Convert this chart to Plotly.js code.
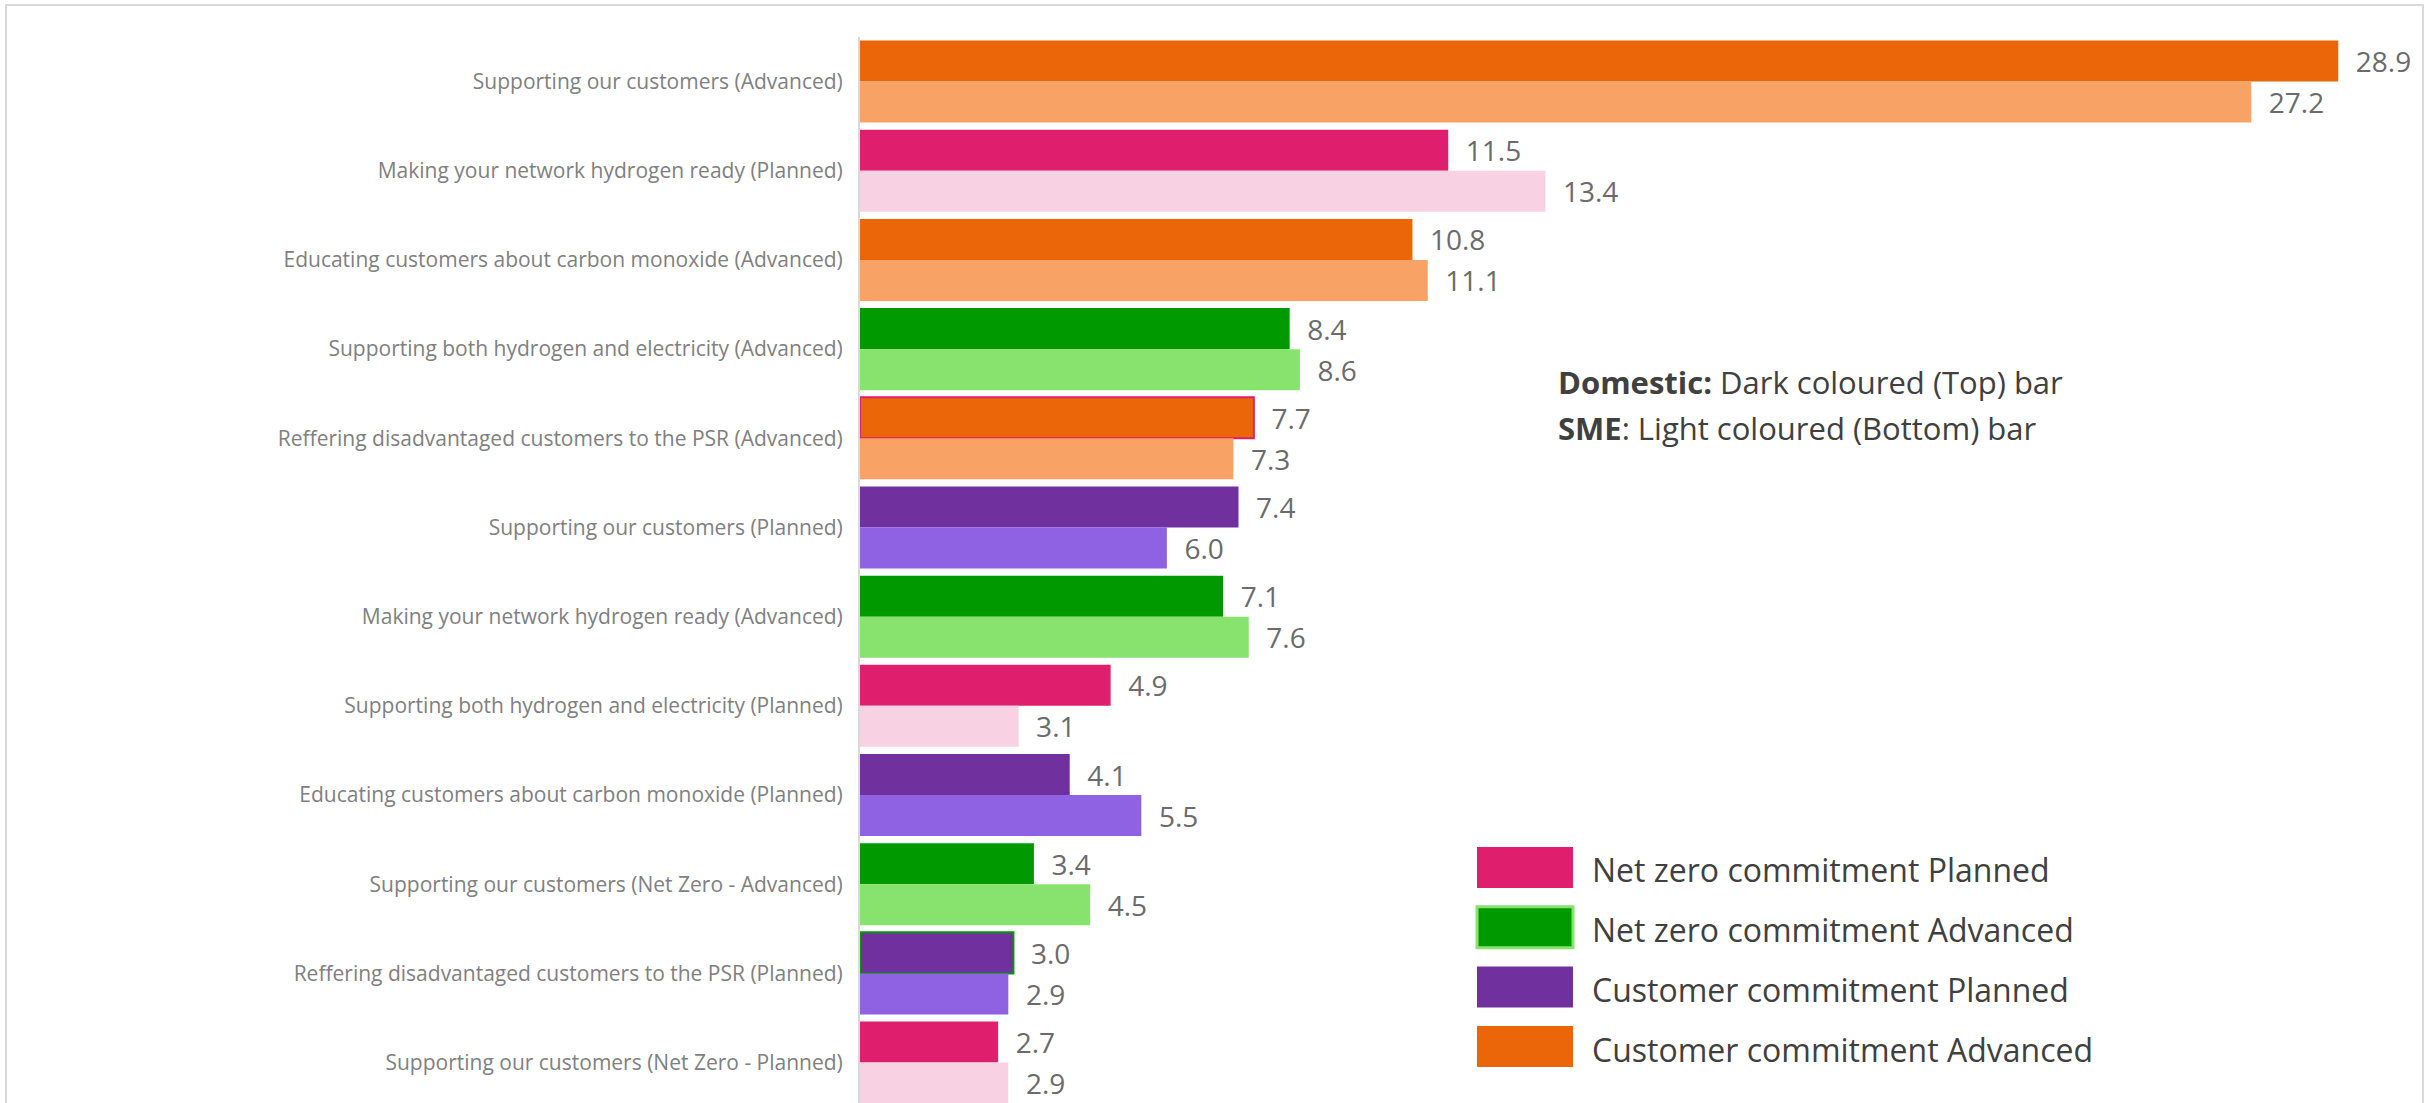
<!DOCTYPE html>
<html>
<head>
<meta charset="utf-8">
<script src="https://cdn.plot.ly/plotly-3.0.1.min.js"></script>
<style>
html, body { margin: 0; padding: 0; background: #ffffff; }
#chart { width: 2427px; height: 1103px; }
</style>
</head>
<body>
<div id="chart"></div>
<script>
// ---- Data ----
const categories = [
  "Supporting our customers (Advanced)",
  "Making your network hydrogen ready (Planned)",
  "Educating customers about carbon monoxide (Advanced)",
  "Supporting both hydrogen and electricity (Advanced)",
  "Reffering disadvantaged customers to the PSR (Advanced)",
  "Supporting our customers (Planned)",
  "Making your network hydrogen ready (Advanced)",
  "Supporting both hydrogen and electricity (Planned)",
  "Educating customers about carbon monoxide (Planned)",
  "Supporting our customers (Net Zero - Advanced)",
  "Reffering disadvantaged customers to the PSR (Planned)",
  "Supporting our customers (Net Zero - Planned)"
];
const domestic = [28.9, 11.5, 10.8, 8.4, 7.7, 7.4, 7.1, 4.9, 4.1, 3.4, 3.0, 2.7];
const sme      = [27.2, 13.4, 11.1, 8.6, 7.3, 6.0, 7.6, 3.1, 5.5, 4.5, 2.9, 2.9];
const commitmentType = ["CA", "NZP", "CA", "NZA", "CA", "CP", "NZA", "NZP", "CP", "NZA", "CP", "NZP"];

const legendKeys   = ["NZP", "NZA", "CP", "CA"];
const legendLabels = [
  "Net zero commitment Planned",
  "Net zero commitment Advanced",
  "Customer commitment Planned",
  "Customer commitment Advanced"
];

// ---- Styles ----
const darkColor  = { NZP: "#E01E6E", NZA: "#009A00", CP: "#70309E", CA: "#EB6608" };
const lightColor = { NZP: "#F8D1E3", NZA: "#88E36E", CP: "#8E62E3", CA: "#F9A265" };
const outlineColor = ["rgba(0,0,0,0)", "rgba(0,0,0,0)", "rgba(0,0,0,0)", "rgba(0,0,0,0)", "#E01E6E",
  "rgba(0,0,0,0)", "rgba(0,0,0,0)", "rgba(0,0,0,0)", "rgba(0,0,0,0)", "rgba(0,0,0,0)", "#009A00", "rgba(0,0,0,0)"];
const outlineWidth = outlineColor.map(c => c.startsWith("#") ? 2 : 0);

const FONT = "Open Sans, Noto Sans, sans-serif";
const W = 2427, H = 1103;
const ML = 860, MR = 50, MT = 37, MB = 0;
const PW = W - ML - MR, PH = H - MT - MB;
const px2x = p => (p - ML) / PW;
const py2y = p => (H - MB - p) / PH;

const valueText = v => "\u00a0\u00a0" + v.toFixed(1);

const traces = [
  {
    type: "bar", orientation: "h", name: "Domestic",
    y: categories, x: domestic,
    marker: { color: commitmentType.map(t => darkColor[t]),
              line: { color: outlineColor, width: outlineWidth } },
    text: domestic.map(valueText), textposition: "outside", cliponaxis: false,
    constraintext: "none",
    textfont: { family: FONT, size: 28, color: "#6b6b6b" },
    hoverinfo: "y+x", showlegend: false
  },
  {
    type: "bar", orientation: "h", name: "SME",
    y: categories, x: sme,
    marker: { color: commitmentType.map(t => lightColor[t]) },
    text: sme.map(valueText), textposition: "outside", cliponaxis: false,
    constraintext: "none",
    textfont: { family: FONT, size: 28, color: "#6b6b6b" },
    hoverinfo: "y+x", showlegend: false
  }
];

// Legend built from shapes + annotations
const shapes = [
  { type: "rect", xref: "paper", yref: "paper",
    x0: px2x(6), x1: px2x(2423), y0: py2y(1140), y1: py2y(5),
    line: { color: "#d9d9d9", width: 2 }, fillcolor: "rgba(0,0,0,0)", layer: "below" }
];
const annotations = [
  { xref: "paper", yref: "paper", x: px2x(1556), y: py2y(382), xanchor: "left", yanchor: "middle",
    text: "<b>Domestic:</b> Dark coloured (Top) bar", showarrow: false, align: "left",
    font: { family: FONT, size: 31, color: "#404040" } },
  { xref: "paper", yref: "paper", x: px2x(1556), y: py2y(428), xanchor: "left", yanchor: "middle",
    text: "<b>SME</b>: Light coloured (Bottom) bar", showarrow: false, align: "left",
    font: { family: FONT, size: 31, color: "#404040" } }
];
legendKeys.forEach((k, i) => {
  const top = 847 + i * 59.7;
  shapes.push({ type: "rect", xref: "paper", yref: "paper",
    x0: px2x(1477), x1: px2x(1573), y0: py2y(top + 41), y1: py2y(top),
    fillcolor: darkColor[k],
    line: { color: k === "NZA" ? "#88E36E" : darkColor[k], width: k === "NZA" ? 3 : 0 } });
  annotations.push({ xref: "paper", yref: "paper", x: px2x(1590), y: py2y(top + 23),
    xanchor: "left", yanchor: "middle", text: legendLabels[i], showarrow: false,
    font: { family: FONT, size: 32, color: "#404040" } });
});

const layout = {
  width: W, height: H,
  margin: { l: ML, r: MR, t: MT, b: MB, pad: 0 },
  paper_bgcolor: "#ffffff", plot_bgcolor: "#ffffff",
  barmode: "group", bargap: 0.08, bargroupgap: 0,
  showlegend: false,
  xaxis: { range: [0, PW / 51.15], visible: false, showgrid: false, zeroline: false, fixedrange: true },
  yaxis: {
    type: "category", range: [-0.5 + PH / 89.18, -0.5],
    showline: true, linecolor: "#d9d9d9", linewidth: 2,
    ticks: "", showgrid: false, zeroline: false, ticklabelstandoff: 11,
    tickfont: { family: FONT, size: 21, color: "#808080" }, fixedrange: true
  },
  shapes: shapes,
  annotations: annotations,
  font: { family: FONT }
};

Plotly.newPlot("chart", traces, layout, { displayModeBar: false, staticPlot: true });
</script>
</body>
</html>
